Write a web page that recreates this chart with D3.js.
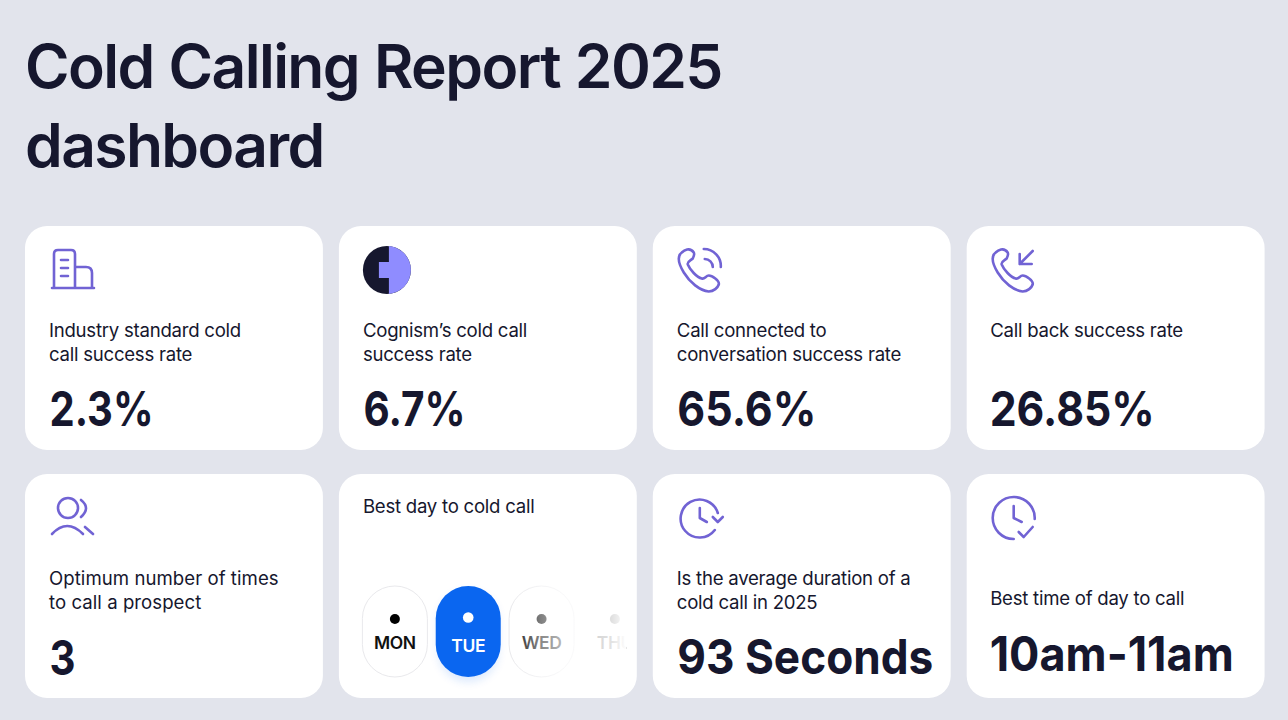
<!DOCTYPE html>
<html><head><meta charset="utf-8">
<script src="https://cdn.jsdelivr.net/npm/d3@7"></script>
<style>
html,body{margin:0;padding:0;background:#e2e4ec;overflow:hidden}
text{font-family:Inter,"Noto Sans",sans-serif;fill:#16172e}
</style></head><body>
<svg id="c" width="1288" height="720"></svg>
<script>
const titleLines = ["Cold Calling Report 2025","dashboard"];
const labels = [
 ["Industry standard cold","call success rate"],
 ["Cognism’s cold call","success rate"],
 ["Call connected to","conversation success rate"],
 ["Call back success rate"],
 ["Optimum number of times","to call a prospect"],
 ["Best day to cold call"],
 ["Is the average duration of a","cold call in 2025"],
 ["Best time of day to call"]
];
const values = ["2.3%","6.7%","65.6%","26.85%","3","","93 Seconds","10am-11am"];
const valueWidths = [104,102,139,165,26,0,256,244];
const icons = ["building","logo","phoneWaves","phoneIn","users","","clockArrow","clockCheck"];
const days = ["MON","TUE","WED","THU"];

const svg = d3.select("#c");
const purple = "#7163d4";
const x = d3.scaleBand().domain(d3.range(4)).range([25,1264.6]).paddingInner(16/314).paddingOuter(0);
const y = d3.scaleBand().domain(d3.range(2)).range([226,698]).paddingInner(24/248).paddingOuter(0);

svg.selectAll(".t").data(titleLines).join("text").attr("class","t")
 .attr("x",25).attr("y",(d,i)=>87.5+i*79.5)
 .attr("font-size",60.5).attr("font-weight",600).attr("letter-spacing",-1.6).attr("word-spacing",1.3).text(d=>d);

const defs = svg.append("defs");
const cards = svg.selectAll(".card").data(labels).join("g").attr("class","card")
 .attr("transform",(d,i)=>`translate(${x(i%4)},${y(i>3?1:0)})`);
cards.append("rect").attr("width",x.bandwidth()).attr("height",y.bandwidth()).attr("rx",22).attr("fill","#fff");

const labelY = i => i===5 ? 38.5 : i===7 ? 130.5 : 111;
const valueY = [200,200,200,200,201,0,200,197];
const phone = "M34 24 C30 18 24 22 22 24 C18 27 18 34 24 44 C30 54 40 62 49 63 C54 63 58 59 59 56 C60 52 52 47 49 47 C46 47 45 51 42 50 C37 49 30 41 28 36 C27 33 31 32 33 30 C34 28 35 26 34 24 Z";
cards.each(function(lines,i){
  const g = d3.select(this);
  g.selectAll(".l").data(lines).join("text").attr("class","l")
   .attr("x",i%4===3?23.5:24).attr("y",(d,k)=>labelY(i)+k*24)
   .attr("font-size",18.6).attr("font-weight",400).attr("letter-spacing",i===4?0.05:-0.25).text(d=>d);
  if(values[i]){
    g.append("text").attr("x",i%4===3?23:24.5).attr("y",valueY[i])
     .attr("font-size",48).attr("font-weight",700)
     .attr("textLength",valueWidths[i]).attr("lengthAdjust","spacingAndGlyphs").text(values[i]);
  }
  const ic = g.append("g").attr("fill","none").attr("stroke",purple).attr("stroke-width",2.6)
    .attr("stroke-linecap","round").attr("stroke-linejoin","round");
  const kind = icons[i];
  if(kind==="building"){
    ic.append("path").attr("d","M29 62 V28 Q29 24 33 24 H46 Q50 24 50 28 V62 M50 41 H61 Q67 41 67 47 V62 M27 62 H69");
    ic.append("path").attr("d","M36 34 H43 M36 42 H43 M36 50 H43");
  } else if(kind==="logo"){
    ic.remove();
    const r=24,cx=48,cy=44,sx=50,dy=Math.sqrt(r*r-4);
    g.append("circle").attr("cx",cx).attr("cy",cy).attr("r",r).attr("fill","#16172e");
    g.append("path").attr("d",`M${sx} ${cy-dy} A${r} ${r} 0 0 1 ${sx} ${cy+dy} V${cy+8} H${sx-10} V${cy-8} H${sx} Z`).attr("fill","#8f8cff");
  } else if(kind==="phoneWaves"){
    ic.append("path").attr("d",phone).attr("transform","translate(7,2.5)");
    ic.append("path").attr("d","M51 23 A17 17 0 0 1 68 41 M52 33 A8 8 0 0 1 60 41");
  } else if(kind==="phoneIn"){
    ic.append("path").attr("d",phone).attr("transform","translate(7,2.5)");
    ic.append("path").attr("d","M66 25 L53 38 M53 28 V38 H65");
  } else if(kind==="users"){
    ic.append("circle").attr("cx",43).attr("cy",34).attr("r",10);
    ic.append("path").attr("d","M27 60 Q42 44 58 60");
    ic.append("path").attr("d","M56 26 Q66 34 56 43 M60 53 L68 60");
  } else if(kind==="clockArrow"){
    ic.append("path").attr("d","M65 39 A19 19 0 1 0 62 56");
    ic.append("path").attr("d","M47 34 V44 L54 48");
    ic.append("path").attr("d","M60 43 L65 48 L70 43");
  } else if(kind==="clockCheck"){
    ic.append("path").attr("d","M68 45 A21 21 0 1 0 47 65");
    ic.append("path").attr("d","M47 32 V44 L55 48");
    ic.append("path").attr("d","M52 58 L57 63 L66 53");
  }
});

// best-day pills fade out toward the right edge of their card
const dayX = d3.scalePoint().domain(days).range([56,276]);
const fade = defs.append("linearGradient").attr("id","fade").attr("gradientUnits","userSpaceOnUse")
  .attr("x1",170).attr("x2",288).attr("y1",0).attr("y2",0);
[[0,0],[0.27,0.5],[0.45,0.7],[0.87,0.88],[1,1]].forEach(s=>fade.append("stop").attr("offset",s[0]).attr("stop-color","#fff").attr("stop-opacity",s[1]));
defs.append("filter").attr("id","soft").attr("x","-30%").attr("y","-30%").attr("width","160%").attr("height","160%")
  .append("feGaussianBlur").attr("stdDeviation",5);
defs.append("clipPath").attr("id","dc").append("rect").attr("width",288).attr("height",224);
const pg = cards.filter((d,i)=>i===5).append("g").attr("clip-path","url(#dc)");
const pills = pg.selectAll(".p").data(days).join("g").attr("class","p")
 .attr("transform",d=>`translate(${dayX(d)},157.5)`);
pills.filter(d=>d==="TUE").append("rect").attr("x",-30).attr("y",-40).attr("width",60).attr("height",90).attr("rx",30)
 .attr("fill","#0a66f0").attr("opacity",0.15).attr("filter","url(#soft)");
pills.append("rect").attr("x",-32.5).attr("y",-45.5).attr("width",65).attr("height",91).attr("rx",32.5)
 .attr("fill",d=>d==="TUE"?"#0a66f0":"#fff")
 .attr("stroke",d=>d==="TUE"||d==="THU"?"none":"#e9e9ec").attr("stroke-width",1);
pills.append("circle").attr("cy",d=>d==="TUE"?-14:-12.5).attr("r",d=>d==="TUE"?5.3:5)
 .attr("fill",d=>d==="TUE"?"#fff":"#000");
pills.append("text").attr("text-anchor","middle").attr("y",d=>d==="TUE"?20:17.5).attr("font-size",17.5).attr("font-weight",600)
 .attr("letter-spacing",-0.4).style("fill",d=>d==="TUE"?"#fff":"#111").text(d=>d);
pg.append("rect").attr("x",170).attr("y",100).attr("width",118).attr("height",115).attr("fill","url(#fade)");
</script></body></html>
